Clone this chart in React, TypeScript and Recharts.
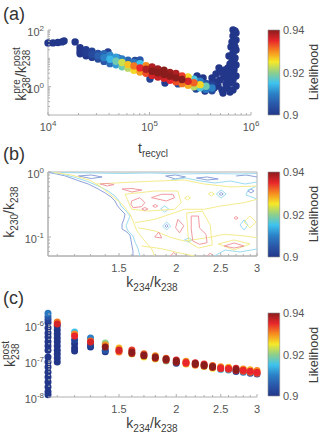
import React from 'react';
import { ScatterChart, Scatter, XAxis, YAxis, BarChart, Bar, ReferenceArea } from 'recharts';

// ---------------- shared style ----------------
const FONT = '"Liberation Sans", Arial, Helvetica, sans-serif';
const AXIS_COLOR = '#b0b0b0';
const TICK_COLOR = '#555555';
const LABEL_COLOR = '#3c3c3c';
const TM = 3; // tick margin

// ---------------- colour scale (likelihood) ----------------
const likMin = 0.9;
const likMax = 0.94;
const jetStops = ['#22378a', '#2a56a8', '#2b80c6', '#3ec3ef', '#8fcf8a', '#f5e928', '#f68b1f', '#e8262b', '#8a1c1c'];
const cbTicks = [0.9, 0.92, 0.94];
const cbTickLabels = ['0.9', '0.92', '0.94'];

// ---------------- panel (a) data ----------------
const aXMajor = [1e4, 1e5, 1e6];
const aXMajorLabels = ['10^4', '10^5', '10^6'];
const aXMinor = [2e4, 3e4, 4e4, 5e4, 6e4, 7e4, 8e4, 9e4, 2e5, 3e5, 4e5, 5e5, 6e5, 7e5, 8e5, 9e5];
const aYMajor = [1, 100];
const aYMajorLabels = ['10^0', '10^2'];
const aYMinor = [0.1, 0.2, 0.3, 0.4, 0.5, 0.6, 0.7, 0.8, 0.9, 2, 3, 4, 5, 6, 7, 8, 9, 10, 20, 30, 40, 50, 60, 70, 80, 90];

const aNavyLik = 0.9;
const aLeftT = [1.0e4, 1.12e4, 1.25e4, 1.37e4, 1.44e4, 1.85e4];
const aLeftK = [35, 35, 36, 38, 41, 38];

const aBandT = [2.07e4, 2.37e4, 2.71e4, 3.11e4, 3.56e4, 4.08e4, 4.68e4, 5.36e4, 6.14e4, 7.03e4, 8.06e4, 9.24e4, 1.06e5, 1.21e5, 1.39e5, 1.59e5, 1.82e5, 2.09e5, 2.4e5, 2.74e5, 3.15e5, 3.6e5, 4.13e5];
const aBandKUpper = [23.5, 20, 18, 15, 14.5, 13, 11, 9.5, 8.6, 7.2, 6.5, 5.5, 5.0, 4.2, 3.8, 3.2, 2.9, 2.4, 2.2, 1.85, 1.55, 1.3, 1.15];
const aBandKMid = [18.2, 16, 13.6, 12.2, 10.5, 9.3, 7.9, 7.1, 6.0, 5.4, 4.6, 4.1, 3.5, 3.1, 2.7, 2.35, 2.05, 1.8, 1.55, 1.37, 1.18, 1.04, 0.9];
const aBandKLower = [14.5, 12.3, 10.9, 9.4, 7.8, 6.5, 5.9, 5.0, 4.5, 3.8, 3.3, 2.95, 2.5, 2.2, 1.97, 1.68, 1.5, 1.28, 1.12, 0.99, 0.92, 0.8, 0.72];
const aBandLUpper = [0.9, 0.901, 0.902, 0.904, 0.907, 0.911, 0.912, 0.91, 0.907, 0.909, 0.915, 0.93, 0.938, 0.939, 0.94, 0.939, 0.938, 0.934, 0.926, 0.916, 0.91, 0.905, 0.902];
const aBandLMid = [0.9, 0.901, 0.903, 0.906, 0.91, 0.914, 0.918, 0.923, 0.927, 0.931, 0.935, 0.938, 0.94, 0.94, 0.94, 0.94, 0.94, 0.94, 0.936, 0.932, 0.926, 0.918, 0.91];
const aBandLLower = [0.9, 0.9, 0.901, 0.903, 0.905, 0.908, 0.912, 0.918, 0.922, 0.926, 0.929, 0.933, 0.936, 0.937, 0.936, 0.935, 0.933, 0.931, 0.928, 0.922, 0.916, 0.909, 0.903];

const aOutT = [1.01e5, 1.42e5, 7.2e4, 3.9e4, 4.9e4, 2.87e5, 3.52e5, 1.91e5, 2.71e4, 8.06e4];
const aOutK = [1.87, 1.35, 8.4, 16.8, 10.3, 0.83, 0.7, 1.25, 11.2, 8.8];
const aOutL = [0.902, 0.901, 0.903, 0.901, 0.904, 0.902, 0.9, 0.903, 0.9, 0.905];

const aSpikeT = [6.65e5, 6.96e5, 7.12e5, 6.65e5, 7.12e5, 6.8e5, 6.35e5, 7.12e5, 6.65e5, 6.07e5, 6.96e5, 6.5e5, 7.12e5, 5.93e5, 6.8e5, 6.35e5, 7.12e5, 5.68e5, 6.65e5, 6.21e5, 7.12e5, 5.81e5, 6.65e5, 6.21e5, 6.8e5, 6.5e5, 6.96e5, 6.65e5];
const aSpikeK = [100, 92, 79, 61.5, 44.5, 32, 25, 19.7, 15.5, 12.1, 10.3, 7.4, 5.8, 4.6, 3.9, 3.05, 2.39, 2.03, 1.72, 1.35, 1.06, 0.9, 0.77, 0.65, 8.75, 38, 25, 5];
const aBlobT = [4.13e5, 4.52e5, 4.95e5, 5.42e5, 4.73e5, 5.18e5, 5.68e5, 4.32e5, 3.95e5, 5.93e5, 4.84e5, 5.3e5, 2.94e5, 3.37e5, 6.21e5, 5.55e5, 4.52e5, 6.07e5, 5.0e5];
const aBlobK = [2.03, 2.8, 1.72, 2.39, 1.06, 0.77, 1.25, 0.9, 1.25, 3.05, 4.6, 0.6, 2.39, 2.03, 6.3, 3.9, 1.47, 1.87, 3.3];

// ---------------- panel (b) data: likelihood contours ----------------
const kXMajor = [1.5, 2, 2.5, 3];
const kXMajorLabels = ['1.5', '2', '2.5', '3'];
const kXMinor = [1.1, 1.2, 1.3, 1.4, 1.6, 1.7, 1.8, 1.9, 2.1, 2.2, 2.3, 2.4, 2.6, 2.7, 2.8, 2.9];
const bYMajor = [0.1, 1];
const bYMajorLabels = ['10^-1', '10^0'];
const bYMinor = [0.06, 0.07, 0.08, 0.09, 0.2, 0.3, 0.4, 0.5, 0.6, 0.7, 0.8, 0.9];

const bB1 = [[1.053, 0.98], [1.096, 0.932], [1.146, 0.868], [1.211, 0.753], [1.285, 0.654], [1.351, 0.548], [1.399, 0.475], [1.441, 0.413], [1.47, 0.358], [1.489, 0.3], [1.515, 0.26], [1.546, 0.226], [1.538, 0.189], [1.523, 0.158], [1.523, 0.133], [1.561, 0.119], [1.585, 0.107], [1.593, 0.09], [1.601, 0.0727], [1.609, 0.061], [1.609, 0.051]];
const bB2 = [[1.223, 0.868], [1.305, 0.899], [1.378, 0.838], [1.305, 0.794], [1.223, 0.868]];
const bB3 = [[1.896, 0.868], [1.993, 0.899], [2.095, 0.838], [1.993, 0.78], [1.896, 0.868]];
const bB4 = [[2.213, 0.809], [2.337, 0.838], [2.469, 0.78], [2.337, 0.753], [2.213, 0.809]];
const bB5 = [[2.701, 0.868], [2.839, 0.899], [3.0, 0.838]];
const bB6 = [[1.891, 0.148], [1.905, 0.156], [1.92, 0.148], [1.905, 0.14], [1.891, 0.148]];
const bB7 = [[2.481, 0.459], [2.506, 0.484], [2.532, 0.459], [2.506, 0.435], [2.481, 0.459]];
const bB8 = [[2.867, 0.51], [2.911, 0.548], [2.954, 0.51], [2.911, 0.475], [2.867, 0.51]];

const bC1 = [[1.069, 0.98], [1.124, 0.932], [1.193, 0.838], [1.273, 0.727], [1.351, 0.609], [1.42, 0.51], [1.47, 0.427], [1.5, 0.358], [1.515, 0.3], [1.554, 0.251], [1.585, 0.21], [1.569, 0.176], [1.554, 0.148], [1.569, 0.124], [1.609, 0.104], [1.625, 0.0838], [1.649, 0.0677], [1.666, 0.051]];
const bC2 = [[1.124, 0.98], [1.305, 0.965], [1.515, 0.948], [1.76, 0.965], [2.043, 0.932], [2.372, 0.948], [2.755, 0.932], [3.0, 0.948]];
const bC3 = [[1.867, 0.148], [1.905, 0.17], [1.944, 0.148], [1.905, 0.128], [1.867, 0.148]];
const bC4 = [[2.755, 0.153], [2.811, 0.183], [2.867, 0.153], [2.811, 0.128], [2.755, 0.153]];
const bC5 = [[2.445, 0.459], [2.506, 0.528], [2.57, 0.459], [2.506, 0.398], [2.445, 0.459]];
const bC6 = [[1.849, 0.27], [1.887, 0.3], [1.925, 0.27], [1.887, 0.242], [1.849, 0.27]];
const bC7 = [[2.084, 0.09], [2.127, 0.0966], [2.169, 0.09], [2.127, 0.0838], [2.084, 0.09]];
const bC8 = [[2.421, 0.051], [2.557, 0.0631], [2.755, 0.0588], [3.0, 0.0654]];
const bC9 = [[3.0, 0.609], [2.867, 0.528], [2.839, 0.443], [3.0, 0.384]];
const bC10 = [[1.944, 0.753], [2.095, 0.809], [2.257, 0.727], [2.433, 0.677], [2.621, 0.727], [2.825, 0.654], [3.0, 0.702]];

const bY1 = [[1.08, 0.98], [1.181, 0.899], [1.292, 0.753], [1.371, 0.588], [1.448, 0.427], [1.523, 0.322], [1.585, 0.226], [1.609, 0.176], [1.641, 0.124], [1.708, 0.0868], [1.768, 0.0654], [1.795, 0.051]];
const bY2 = [[1.338, 0.654], [1.478, 0.677], [1.625, 0.702], [1.822, 0.727], [2.084, 0.753], [2.302, 0.654], [2.634, 0.588], [3.0, 0.609]];
const bY3 = [[1.625, 0.166], [1.795, 0.187], [1.887, 0.21], [2.084, 0.267], [2.302, 0.267], [2.503, 0.3], [2.811, 0.337], [3.0, 0.38]];
const bY4 = [[1.651, 0.139], [1.795, 0.124], [1.95, 0.0976], [2.084, 0.0868], [2.341, 0.0976], [2.544, 0.11], [2.811, 0.104], [3.0, 0.0976]];
const bY5 = [[1.68, 0.0727], [1.856, 0.0661], [2.05, 0.0561], [2.191, 0.051]];
const bY6 = [[1.546, 0.454], [1.795, 0.51], [2.016, 0.51], [2.05, 0.337], [1.983, 0.267], [1.736, 0.251], [1.598, 0.267], [1.546, 0.454]];
const bY7 = [[2.084, 0.398], [2.116, 0.427], [2.148, 0.398], [2.116, 0.371], [2.084, 0.398]];
const bY8 = [[2.349, 0.459], [2.385, 0.492], [2.421, 0.459], [2.385, 0.427], [2.349, 0.459]];
const bY9 = [[2.106, 0.234], [2.279, 0.251], [2.372, 0.153], [2.396, 0.0753], [2.236, 0.0677], [2.127, 0.0838], [2.106, 0.234]];
const bY10 = [[2.469, 0.078], [2.674, 0.09], [2.896, 0.078], [2.674, 0.0631], [2.469, 0.078]];
const bY11 = [[2.811, 0.17], [2.896, 0.21], [2.985, 0.17], [2.896, 0.138], [2.811, 0.17]];

const bR1 = [[1.365, 0.654], [1.413, 0.665], [1.463, 0.642], [1.413, 0.609], [1.365, 0.654]];
const bR2 = [[1.523, 0.548], [1.601, 0.557], [1.682, 0.528], [1.601, 0.492], [1.523, 0.548]];
const bR3 = [[1.598, 0.358], [1.666, 0.403], [1.708, 0.337], [1.68, 0.293], [1.611, 0.282], [1.593, 0.318], [1.598, 0.358]];
const bR4 = [[1.766, 0.403], [1.856, 0.454], [1.966, 0.454], [1.983, 0.403], [1.903, 0.358], [1.766, 0.403]];
const bR5 = [[1.682, 0.27], [1.708, 0.284], [1.734, 0.27], [1.708, 0.256], [1.682, 0.27]];
const bR6 = [[1.777, 0.3], [1.8, 0.316], [1.822, 0.3], [1.8, 0.284], [1.777, 0.3]];
const bR7 = [[2.016, 0.187], [2.077, 0.149], [2.033, 0.116], [1.993, 0.139], [2.016, 0.187]];
const bR8 = [[2.156, 0.21], [2.236, 0.21], [2.247, 0.138], [2.322, 0.11], [2.334, 0.0817], [2.247, 0.0772], [2.173, 0.0868], [2.156, 0.133], [2.156, 0.21]];
const bR9 = [[1.795, 0.1], [1.831, 0.119], [1.859, 0.0966], [1.795, 0.1]];
const bR10 = [[1.944, 0.051], [1.973, 0.0578], [2.013, 0.051]];
const bR11 = [[2.544, 0.0727], [2.674, 0.0809], [2.811, 0.0727], [2.674, 0.0677], [2.544, 0.0727]];
const bR12 = [[2.674, 0.196], [2.701, 0.207], [2.728, 0.196], [2.701, 0.186], [2.674, 0.196]];
const bR13 = [[2.337, 0.051], [2.372, 0.0567], [2.408, 0.051]];

const contourLevels = [
  { level: 0.905, color: '#8ea2da', lines: [bB1, bB2, bB3, bB4, bB5, bB6, bB7, bB8] },
  { level: 0.915, color: '#9cdcf1', lines: [bC1, bC2, bC3, bC4, bC5, bC6, bC7, bC8, bC9, bC10] },
  { level: 0.925, color: '#f5ec8e', lines: [bY1, bY2, bY3, bY4, bY5, bY6, bY7, bY8, bY9, bY10, bY11] },
  { level: 0.935, color: '#f09aa0', lines: [bR1, bR2, bR3, bR4, bR5, bR6, bR7, bR8, bR9, bR10, bR11, bR12, bR13] },
];

// ---------------- panel (c) data ----------------
const cYMajor = [1e-8, 1e-7, 1e-6];
const cYMajorLabels = ['10^-8', '10^-7', '10^-6'];
const cYMinor = [2e-8, 3e-8, 4e-8, 5e-8, 6e-8, 7e-8, 8e-8, 9e-8, 2e-7, 3e-7, 4e-7, 5e-7, 6e-7, 7e-7, 8e-7, 9e-7, 2e-6];

const cColumnX = [1.05, 1.1, 1.2, 1.3, 1.4, 1.5, 1.6, 1.7, 1.8, 1.9, 2.0, 2.1, 2.2, 2.3, 2.4, 2.5, 2.6, 2.7, 2.8, 2.9, 3.0];
const cColumnK = [
  [2.1e-6, 1.7e-6, 1.4e-6, 1.15e-6, 8.3e-7, 6.0e-7, 4.6e-7, 3.4e-7, 2.6e-7, 2.0e-7, 1.3e-7, 9.4e-8, 6.8e-8, 4.9e-8, 3.6e-8, 2.6e-8, 1.9e-8, 1.4e-8, 1.15e-8],
  [1.21e-6, 1.07e-6, 9.4e-7, 7.3e-7, 5.6e-7, 4.35e-7, 3.4e-7, 2.6e-7, 2.0e-7, 1.56e-7, 1.21e-7, 9.4e-8],
  [6.4e-7, 5.6e-7, 4.95e-7, 3.8e-7, 3.0e-7, 2.3e-7, 1.9e-7],
  [4.35e-7, 3.6e-7, 3.37e-7, 2.8e-7, 2.45e-7],
  [3.16e-7, 2.8e-7, 2.45e-7, 2.0e-7, 1.8e-7],
  [2.3e-7, 2.02e-7, 1.78e-7, 1.9e-7],
  [2.02e-7, 1.78e-7, 1.56e-7, 1.62e-7],
  [1.6e-7, 1.47e-7, 1.3e-7, 1.38e-7],
  [1.4e-7, 1.29e-7, 1.14e-7, 1.2e-7],
  [1.2e-7, 1.14e-7, 1.0e-7, 1.05e-7],
  [1.07e-7, 1.0e-7, 8.6e-8, 9.2e-8],
  [9.8e-8, 9.1e-8, 8.2e-8, 8.6e-8],
  [9.0e-8, 8.5e-8, 7.6e-8, 8.0e-8],
  [8.2e-8, 7.7e-8, 7.0e-8, 7.3e-8],
  [7.5e-8, 7.0e-8, 6.3e-8, 6.6e-8],
  [6.9e-8, 6.4e-8, 5.8e-8, 6.1e-8],
  [6.7e-8, 6.2e-8, 5.6e-8, 5.9e-8],
  [6.3e-8, 5.8e-8, 5.1e-8, 5.4e-8],
  [6.0e-8, 5.5e-8, 4.9e-8, 5.2e-8],
  [5.7e-8, 5.2e-8, 4.6e-8, 4.9e-8],
  [5.4e-8, 4.9e-8, 4.35e-8, 4.6e-8],
];
const cColumnL = [
  [0.909, 0.905, 0.902, 0.9, 0.9, 0.9, 0.9, 0.9, 0.9, 0.9, 0.9, 0.9, 0.9, 0.9, 0.9, 0.9, 0.9, 0.9, 0.9],
  [0.931, 0.936, 0.9, 0.9, 0.9, 0.9, 0.9, 0.9, 0.9, 0.9, 0.9, 0.9],
  [0.915, 0.93, 0.935, 0.902, 0.9, 0.9, 0.9],
  [0.91, 0.931, 0.936, 0.902, 0.9],
  [0.92, 0.93, 0.94, 0.905, 0.9],
  [0.928, 0.936, 0.93, 0.934],
  [0.934, 0.94, 0.924, 0.938],
  [0.932, 0.94, 0.925, 0.939],
  [0.93, 0.94, 0.926, 0.938],
  [0.932, 0.94, 0.92, 0.938],
  [0.936, 0.94, 0.903, 0.939],
  [0.93, 0.935, 0.928, 0.934],
  [0.936, 0.94, 0.93, 0.939],
  [0.935, 0.94, 0.926, 0.939],
  [0.932, 0.94, 0.925, 0.938],
  [0.93, 0.935, 0.915, 0.934],
  [0.928, 0.935, 0.912, 0.933],
  [0.936, 0.94, 0.902, 0.938],
  [0.93, 0.935, 0.91, 0.933],
  [0.928, 0.935, 0.903, 0.932],
  [0.93, 0.935, 0.903, 0.933],
];

// ---------------- helpers ----------------
function hexToRgb(hex: string) {
  const n = parseInt(hex.slice(1), 16);
  return [(n >> 16) & 255, (n >> 8) & 255, n & 255];
}
function likColor(L: number) {
  const t = Math.max(0, Math.min(1, (L - likMin) / (likMax - likMin)));
  const s = t * (jetStops.length - 1);
  const i = Math.min(jetStops.length - 2, Math.floor(s));
  const f = s - i;
  const a = hexToRgb(jetStops[i]);
  const b = hexToRgb(jetStops[i + 1]);
  const c = a.map((v, k) => Math.round(v + (b[k] - v) * f));
  return `rgb(${c[0]},${c[1]},${c[2]})`;
}
type Pt = { x: number; y: number; lik: number; color: string };
function pts(xs: number[], ys: number[], liks: number[] | number): Pt[] {
  return xs.map((x, i) => {
    const lik = Array.isArray(liks) ? liks[i] : liks;
    return { x, y: ys[i], lik, color: likColor(lik) };
  });
}

const panelAPoints: Pt[] = [
  ...pts(aLeftT, aLeftK, aNavyLik),
  ...pts(aSpikeT, aSpikeK, aNavyLik),
  ...pts(aBlobT, aBlobK, aNavyLik),
  ...pts(aOutT, aOutK, aOutL),
  ...pts(aBandT, aBandKUpper, aBandLUpper),
  ...pts(aBandT, aBandKLower, aBandLLower),
  ...pts(aBandT, aBandKMid, aBandLMid),
].sort((p, q) => p.lik - q.lik);

const panelCPoints: Pt[] = cColumnX
  .flatMap((x, j) => cColumnK[j].map((k, i) => ({ x, y: k, lik: cColumnL[j][i], color: likColor(cColumnL[j][i]) })))
  .sort((p, q) => p.lik - q.lik);

const dotShape = (r: number) => (props: any) =>
  props.cx == null ? <g /> : <circle cx={props.cx} cy={props.cy} r={r} fill={props.payload.color} />;
const emptyShape = () => <g />;

function PowText({ x, y, label, anchor }: { x: number; y: number; label: string; anchor: 'start' | 'middle' | 'end' }) {
  const [base, exp] = label.split('^');
  return (
    <text x={x} y={y} textAnchor={anchor} fontSize={11} fill={TICK_COLOR} fontFamily={FONT}>
      {base}
      {exp !== undefined && (
        <tspan dy={-5} fontSize={8}>
          {exp}
        </tspan>
      )}
    </text>
  );
}

const isMajor = (majors: number[], v: number) => majors.findIndex((m) => Math.abs(m - v) <= Math.abs(m) * 1e-6);

function makeXTick(majors: number[], labels: string[]) {
  return (props: any) => {
    const { x, y, payload } = props;
    const i = isMajor(majors, payload.value);
    const axisY = y - TM;
    return (
      <g>
        <line x1={x} x2={x} y1={axisY} y2={axisY - (i >= 0 ? 3 : 2)} stroke={AXIS_COLOR} />
        {i >= 0 && <PowText x={x} y={axisY + 16} label={labels[i]} anchor="middle" />}
      </g>
    );
  };
}
function makeYTick(majors: number[], labels: string[]) {
  return (props: any) => {
    const { x, y, payload } = props;
    const i = isMajor(majors, payload.value);
    const axisX = x + TM;
    const hasExp = i >= 0 && labels[i].includes('^');
    return (
      <g>
        <line x1={axisX} x2={axisX + (i >= 0 ? 3 : 2)} y1={y} y2={y} stroke={AXIS_COLOR} />
        {i >= 0 && <PowText x={x - 1} y={y + (hasExp ? 6 : 4)} label={labels[i]} anchor="end" />}
      </g>
    );
  };
}
const cbTick = (props: any) => {
  const { x, y, payload } = props;
  const i = isMajor(cbTicks, payload.value);
  return (
    <text x={x} y={y + 4} textAnchor="start" fontSize={11} fill={TICK_COLOR} fontFamily={FONT}>
      {i >= 0 ? cbTickLabels[i] : ''}
    </text>
  );
};

function ColorBar({ id, top, height, plotTop, plotBottom }: { id: string; top: number; height: number; plotTop: number; plotBottom: number }) {
  const data = [{ n: 'cb', v: [likMin, likMax] }];
  return (
    <div style={{ position: 'absolute', left: 262, top }}>
      <BarChart width={58} height={height} data={data} margin={{ top: plotTop, right: 0, bottom: height - plotBottom, left: 5 }}>
        <defs>
          <linearGradient id={id} x1="0" y1="1" x2="0" y2="0">
            {jetStops.map((c, i) => (
              <stop key={i} offset={i / (jetStops.length - 1)} stopColor={c} />
            ))}
          </linearGradient>
        </defs>
        <XAxis dataKey="n" hide />
        <YAxis
          orientation="right"
          type="number"
          domain={[likMin, likMax]}
          ticks={cbTicks}
          interval={0}
          width={40}
          axisLine={false}
          tickLine={false}
          tickSize={0}
          tickMargin={3}
          tick={cbTick}
        />
        <Bar dataKey="v" fill={`url(#${id})`} stroke="#8a8a8a" strokeWidth={0.6} barSize={13} isAnimationActive={false} />
      </BarChart>
    </div>
  );
}

const Overlay = () => (
  <svg width={320} height={438} style={{ position: 'absolute', left: 0, top: 0, pointerEvents: 'none' }} fontFamily={FONT}>
    <text x={3} y={20} fontSize={18} fill="#333">(a)</text>
    <text x={3} y={160} fontSize={18} fill="#333">(b)</text>
    <text x={3} y={304} fontSize={18} fill="#333">(c)</text>

    <text x={153} y={153} textAnchor="middle" fontSize={14} fill={LABEL_COLOR}>
      t<tspan fontSize={10} dy={4}>recycl</tspan>
    </text>
    <text x={152} y={287} textAnchor="middle" fontSize={14} fill={LABEL_COLOR}>
      k<tspan fontSize={10} dy={4}>234</tspan>
      <tspan dy={-4}>/k</tspan>
      <tspan fontSize={10} dy={4}>238</tspan>
    </text>
    <text x={152} y={428} textAnchor="middle" fontSize={14} fill={LABEL_COLOR}>
      k<tspan fontSize={10} dy={4}>234</tspan>
      <tspan dy={-4}>/k</tspan>
      <tspan fontSize={10} dy={4}>238</tspan>
    </text>

    <text transform="rotate(-90 26 74)" x={26} y={74} textAnchor="middle" fontSize={14} fill={LABEL_COLOR}>
      k<tspan fontSize={10} dy={-6}>pre</tspan>
      <tspan fontSize={10} dx={-14.5} dy={10}>238</tspan>
      <tspan dy={-4}>/k</tspan>
      <tspan fontSize={10} dy={-6}>post</tspan>
      <tspan fontSize={10} dx={-19} dy={10}>238</tspan>
    </text>
    <text transform="rotate(-90 14 212)" x={14} y={212} textAnchor="middle" fontSize={14} fill={LABEL_COLOR}>
      k<tspan fontSize={10} dy={4}>230</tspan>
      <tspan dy={-4}>/k</tspan>
      <tspan fontSize={10} dy={4}>238</tspan>
    </text>
    <text transform="rotate(-90 15 354)" x={15} y={354} textAnchor="middle" fontSize={14} fill={LABEL_COLOR}>
      k<tspan fontSize={10} dy={-6}>post</tspan>
      <tspan fontSize={10} dx={-19} dy={10}>238</tspan>
    </text>

    <text transform="rotate(-90 318 72)" x={318} y={72} textAnchor="middle" fontSize={12.5} fill={LABEL_COLOR}>Likelihood</text>
    <text transform="rotate(-90 318 214)" x={318} y={214} textAnchor="middle" fontSize={12.5} fill={LABEL_COLOR}>Likelihood</text>
    <text transform="rotate(-90 318 355)" x={318} y={355} textAnchor="middle" fontSize={12.5} fill={LABEL_COLOR}>Likelihood</text>
  </svg>
);

export default function App() {
  return (
    <div style={{ position: 'absolute', left: 0, top: 0, width: 320, height: 438, background: '#fff', overflow: 'hidden', fontFamily: FONT }}>
      {/* panel (a) */}
      <div style={{ position: 'absolute', left: 0, top: 0 }}>
        <ScatterChart width={262} height={160} margin={{ top: 30, right: 11, bottom: 15, left: 0 }}>
          <XAxis
            type="number"
            dataKey="x"
            scale="log"
            domain={[1e4, 1e6]}
            ticks={[...aXMajor, ...aXMinor]}
            interval={0}
            height={30}
            tickSize={0}
            tickMargin={TM}
            tickLine={false}
            axisLine={{ stroke: AXIS_COLOR }}
            tick={makeXTick(aXMajor, aXMajorLabels)}
          />
          <YAxis
            type="number"
            dataKey="y"
            scale="log"
            domain={[0.1, 100]}
            ticks={[...aYMajor, ...aYMinor]}
            interval={0}
            width={48}
            tickSize={0}
            tickMargin={TM}
            tickLine={false}
            axisLine={{ stroke: AXIS_COLOR }}
            tick={makeYTick(aYMajor, aYMajorLabels)}
          />
          <Scatter data={panelAPoints} shape={dotShape(3.7)} isAnimationActive={false} />
        </ScatterChart>
      </div>
      <ColorBar id="cbGradA" top={0} height={160} plotTop={30} plotBottom={115} />

      {/* panel (b) */}
      <div style={{ position: 'absolute', left: 0, top: 145 }}>
        <ScatterChart width={262} height={150} margin={{ top: 27, right: 5, bottom: 9, left: 0 }}>
          <XAxis
            type="number"
            dataKey="x"
            scale="log"
            domain={[1.05, 3]}
            ticks={[...kXMajor, ...kXMinor]}
            interval={0}
            height={30}
            tickSize={0}
            tickMargin={TM}
            tickLine={false}
            axisLine={{ stroke: AXIS_COLOR }}
            tick={makeXTick(kXMajor, kXMajorLabels)}
          />
          <YAxis
            type="number"
            dataKey="y"
            scale="log"
            domain={[0.051, 1]}
            ticks={[...bYMajor, ...bYMinor]}
            interval={0}
            width={48}
            tickSize={0}
            tickMargin={TM}
            tickLine={false}
            axisLine={{ stroke: AXIS_COLOR }}
            tick={makeYTick(bYMajor, bYMajorLabels)}
          />
          <ReferenceArea x1={1.05} x2={3} y1={0.051} y2={1} fill="#ffffff" fillOpacity={0} stroke={AXIS_COLOR} strokeWidth={1} />
          {contourLevels.flatMap((lvl, li) =>
            lvl.lines.map((ln, k) => (
              <Scatter
                key={`c-${li}-${k}`}
                data={ln.map(([x, y]) => ({ x, y }))}
                line={{ stroke: lvl.color, strokeWidth: 1 }}
                lineType="joint"
                shape={emptyShape}
                isAnimationActive={false}
              />
            ))
          )}
        </ScatterChart>
      </div>
      <ColorBar id="cbGradB" top={145} height={150} plotTop={27} plotBottom={112} />

      {/* panel (c) */}
      <div style={{ position: 'absolute', left: 0, top: 290 }}>
        <ScatterChart width={262} height={148} margin={{ top: 23, right: 5, bottom: 11, left: 0 }}>
          <XAxis
            type="number"
            dataKey="x"
            scale="log"
            domain={[1.05, 3]}
            ticks={[...kXMajor, ...kXMinor]}
            interval={0}
            height={30}
            tickSize={0}
            tickMargin={TM}
            tickLine={false}
            axisLine={{ stroke: AXIS_COLOR }}
            tick={makeXTick(kXMajor, kXMajorLabels)}
          />
          <YAxis
            type="number"
            dataKey="y"
            scale="log"
            domain={[1e-8, 2.15e-6]}
            ticks={[...cYMajor, ...cYMinor]}
            interval={0}
            width={48}
            tickSize={0}
            tickMargin={TM}
            tickLine={false}
            axisLine={{ stroke: AXIS_COLOR }}
            tick={makeYTick(cYMajor, cYMajorLabels)}
          />
          <Scatter data={panelCPoints} shape={dotShape(3.5)} isAnimationActive={false} />
        </ScatterChart>
      </div>
      <ColorBar id="cbGradC" top={290} height={148} plotTop={23} plotBottom={106} />

      <Overlay />
    </div>
  );
}
